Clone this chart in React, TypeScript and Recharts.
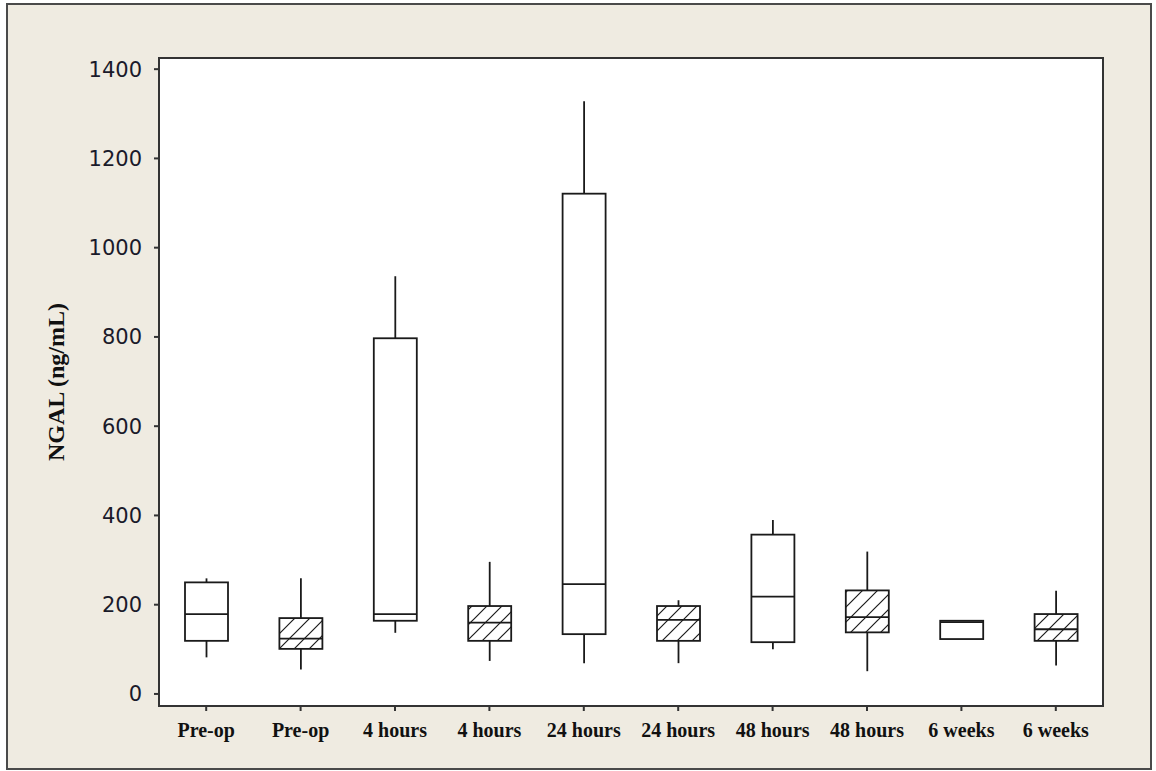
import { ComposedChart, Bar, XAxis, YAxis, ReferenceArea } from "recharts";

// one entry per box, left to right
const categories = [
  "Pre-op",
  "Pre-op",
  "4 hours",
  "4 hours",
  "24 hours",
  "24 hours",
  "48 hours",
  "48 hours",
  "6 weeks",
  "6 weeks",
];
const hatched = [false, true, false, true, false, true, false, true, false, true];
const mins = [82, 55, 137, 74, 69, 69, 100, 51, 123, 64];
const q1s = [119, 101, 164, 119, 134, 119, 116, 138, 123, 119];
const medians = [179, 124, 179, 160, 246, 166, 218, 172, 161, 145];
const q3s = [250, 170, 797, 197, 1121, 197, 357, 232, 164, 179];
const maxs = [259, 259, 936, 296, 1328, 210, 390, 319, 164, 231];

const yTicks = [0, 200, 400, 600, 800, 1000, 1200, 1400];

const data = categories.map((c, i) => ({
  id: i,
  label: c,
  hatched: hatched[i],
  min: mins[i],
  q1: q1s[i],
  median: medians[i],
  q3: q3s[i],
  max: maxs[i],
}));

const INK = "#1a1a1a";

function BoxShape(props: any) {
  const { x, y, width, height, payload } = props;
  const top = Math.min(y, y + height);
  const h = Math.abs(height);
  const span = payload.max - payload.min || 1;
  // bar covers [min, max]; place the quartiles inside it on the same scale
  const py = (v: number) => top + ((payload.max - v) / span) * h;
  const cx = x + width / 2;
  const yQ1 = py(payload.q1);
  const yQ3 = py(payload.q3);
  const yMed = py(payload.median);
  return (
    <g stroke={INK} strokeWidth={1.8} fill="none">
      <line x1={cx} x2={cx} y1={py(payload.max)} y2={yQ3} />
      <line x1={cx} x2={cx} y1={yQ1} y2={py(payload.min)} />
      <rect
        x={x}
        y={yQ3}
        width={width}
        height={yQ1 - yQ3}
        fill={payload.hatched ? "url(#hatch)" : "#fff"}
      />
      <line x1={x} x2={x + width} y1={yMed} y2={yMed} />
    </g>
  );
}

function YLabel(props: any) {
  const vb = props.viewBox;
  const cx = vb.x + 48;
  const cy = vb.y + vb.height / 2;
  return (
    <text
      x={cx}
      y={cy}
      transform={`rotate(-90 ${cx} ${cy})`}
      textAnchor="middle"
      dominantBaseline="central"
      fontFamily="'Liberation Serif', serif"
      fontWeight="bold"
      fontSize={24}
      fill="#111"
    >
      NGAL (ng/mL)
    </text>
  );
}

export default function App() {
  return (
    <div
      style={{
        position: "absolute",
        left: 6,
        top: 3,
        width: 1146,
        height: 767,
        boxSizing: "border-box",
        border: "2px solid #4a4a4a",
        background: "#efebe1",
      }}
    >
      <ComposedChart
        width={1142}
        height={763}
        data={data}
        margin={{ top: 53, right: 47, bottom: 0, left: 0 }}
        barSize={43}
      >
        <defs>
          <pattern id="hatch" patternUnits="userSpaceOnUse" width={15} height={15}>
            <rect width={15} height={15} fill="#fff" />
            <path d="M0,15 L15,0 M-4,4 L4,-4 M11,19 L19,11" stroke={INK} strokeWidth={1.2} />
          </pattern>
        </defs>

        <ReferenceArea
          y1={-27}
          y2={1425}
          fill="#fff"
          fillOpacity={1}
          stroke="#333"
          strokeWidth={2}
        />

        <XAxis
          dataKey="id"
          type="category"
          height={62}
          tickFormatter={(i: number) => categories[i]}
          tickSize={5}
          tickMargin={12}
          axisLine={{ stroke: "#333", strokeWidth: 2 }}
          tickLine={{ stroke: "#333", strokeWidth: 2 }}
          tick={{
            fill: "#111",
            fontSize: 20,
            fontWeight: "bold",
            fontFamily: "'Liberation Serif', serif",
          }}
          interval={0}
        />

        <YAxis
          width={151}
          domain={[-27, 1425]}
          ticks={yTicks}
          allowDataOverflow
          tickSize={5}
          tickMargin={12}
          axisLine={{ stroke: "#333", strokeWidth: 2 }}
          tickLine={{ stroke: "#333", strokeWidth: 2 }}
          tick={{ fill: "#1a1a2a", fontSize: 21, fontFamily: "'DejaVu Sans', sans-serif" }}
          label={{ content: YLabel }}
        />

        <Bar
          dataKey={(d: any) => [d.min, d.max]}
          shape={BoxShape}
          isAnimationActive={false}
        />
      </ComposedChart>
    </div>
  );
}
